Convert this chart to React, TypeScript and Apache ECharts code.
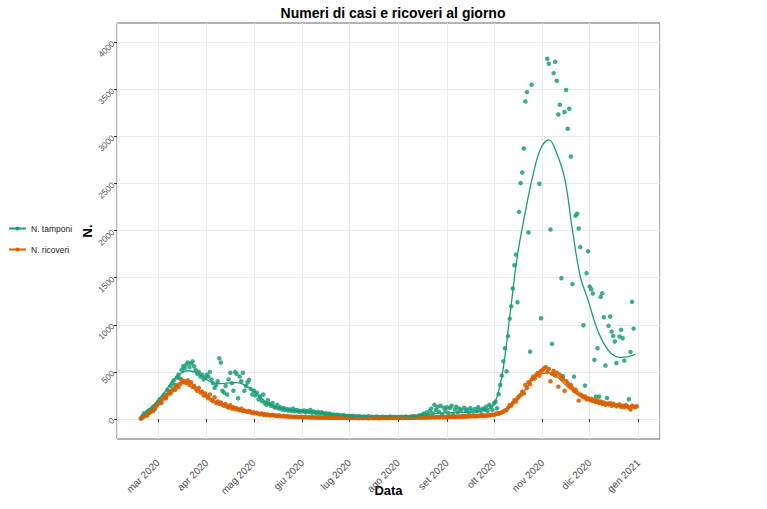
import React, { useEffect, useRef } from "react";
import * as echarts from "echarts";

// Daily counts, first observation on 19 Feb 2020
const tamponiFeb = [5, 30, 60, 45, 75, 90, 70, 110, 130, 105, 150];
const tamponiMar = [180, 210, 170, 240, 260, 230, 310, 290, 350, 380, 410, 360, 440, 470, 430, 520, 560, 540, 580, 600, 550, 590, 610, 560, 520, 480, 500, 450, 470, 420, 440];
const tamponiApr = [470, 450, 500, 420, 380, 330, 360, 400, 645, 600, 300, 280, 350, 260, 420, 490, 380, 300, 500, 480, 220, 450, 400, 490, 300, 350, 390, 415, 320, 260];
const tamponiMay = [300, 250, 280, 210, 240, 190, 260, 170, 150, 200, 160, 140, 170, 130, 120, 150, 110, 125, 100, 115, 95, 105, 90, 100, 85, 110, 80, 95, 90, 75, 85];
const tamponiJun = [80, 90, 70, 85, 75, 95, 65, 80, 70, 60, 75, 55, 70, 65, 50, 60, 45, 55, 50, 40, 48, 35, 45, 40, 38, 30, 42, 35, 28, 33];
const tamponiJul = [30, 25, 35, 22, 28, 20, 30, 25, 18, 26, 22, 20, 28, 15, 24, 20, 18, 25, 22, 16, 20, 24, 18, 22, 15, 20, 25, 18, 22, 20, 17];
const tamponiAug = [20, 18, 24, 15, 22, 25, 20, 18, 27, 22, 30, 25, 20, 35, 40, 30, 55, 45, 70, 40, 85, 110, 60, 150, 95, 130, 75, 140, 50, 120, 90];
const tamponiSep = [125, 60, 115, 140, 45, 100, 130, 70, 110, 95, 35, 120, 85, 100, 60, 115, 90, 40, 105, 80, 125, 95, 50, 110, 100, 130, 85, 150, 131, 96];
const tamponiOct = [167, 184, 114, 262, 361, 460, 613, 751, 507, 880, 1066, 1198, 1385, 1633, 1746, 1240, 2200, 2505, 2618, 2873, 3373, 3472, 1980, 715, 3550, null, null, null, null, 2498, 1070];
const tamponiNov = [null, null, null, 3827, 3773, 2012, 797, 3674, 3795, 3593, 3234, 3337, 1495, 454, 3260, 3494, 3082, 3295, 2788, 1432, 450, 2158, 2179, 2023, 1825, null, 996, 354, 1549, 1782];
const tamponiDec = [1406, 1378, 1332, 627, 237, 751, 237, 1297, 1336, 1081, 567, 223, 989, 1088, 928, 882, 822, 595, null, 875, 946, 858, 620, null, null, 209, 712, 1244, 960, null, null];

const ricoveriFeb = [5, 10, 25, 40, 35, 60, 75, 90, 85, 120, 140];
const ricoveriMar = [160, 185, 175, 210, 230, 220, 260, 280, 270, 300, 320, 310, 350, 340, 370, 415, 390, 400, 380, 410, 360, 390, 340, 350, 320, 300, 330, 280, 290, 250, 270];
const ricoveriApr = [240, 220, 260, 200, 190, 230, 170, 185, 160, 175, 150, 140, 160, 130, 120, 145, 110, 125, 105, 115, 100, 95, 110, 85, 90, 80, 75, 85, 70, 65];
const ricoveriMay = [70, 60, 65, 55, 50, 58, 45, 50, 42, 48, 40, 38, 44, 35, 36, 32, 38, 30, 28, 33, 26, 30, 24, 27, 22, 25, 20, 24, 21, 19, 22];
const ricoveriJun = [20, 18, 21, 17, 19, 16, 18, 15, 17, 14, 16, 13, 15, 14, 12, 15, 13, 12, 14, 11, 13, 12, 10, 13, 11, 12, 10, 11, 12, 10];
const ricoveriJul = [11, 10, 12, 9, 11, 10, 8, 12, 10, 9, 11, 10, 8, 10, 12, 9, 10, 11, 8, 10, 9, 12, 10, 11, 9, 10, 12, 11, 10, 9, 11];
const ricoveriAug = [10, 12, 11, 9, 13, 12, 10, 14, 12, 13, 15, 12, 14, 16, 13, 15, 17, 14, 16, 18, 15, 17, 19, 16, 18, 20, 17, 19, 21, 18, 20];
const ricoveriSep = [22, 19, 23, 21, 24, 20, 25, 22, 26, 23, 27, 24, 28, 25, 29, 27, 30, 28, 32, 29, 33, 31, 35, 32, 37, 34, 40, 36, 42, 45];
const ricoveriOct = [45, 50, 60, 55, 65, 70, 78, 90, 96, 120, 149, 140, 170, 200, 185, 220, 240, 255, 290, 270, 361, 330, 390, 370, 420, 450, 430, 470, 490, 460, 510];
const ricoveriNov = [520, 540, 549, 500, 530, 400, 480, 510, 460, 490, 343, 470, 440, 420, 298, 400, 380, 350, 360, 330, 300, 310, 280, 195, 260, 250, 230, 240, 210, 220];
const ricoveriDec = [200, 215, 190, 205, 180, 195, 170, 185, 160, 175, 150, 165, 155, 170, 140, 160, 150, 135, 145, 155, 130, 140, 125, 145, 135, 120, 100, 140, 130, 125, 135];

// Smoothed trend, one value every 5 days from 19 Feb 2020
const SMOOTH_STEP = 5;
const smoothTamponi = [20, 100, 180, 280, 400, 480, 512, 495, 440, 390, 375, 380, 385, 370, 320, 250, 180, 130, 105, 90, 80, 75, 70, 62, 50, 40, 33, 28, 25, 22, 20, 20, 20, 20, 22, 28, 40, 52, 60, 65, 68, 70, 72, 78, 95, 150, 450, 1080, 1740, 2200, 2600, 2880, 2965, 2820, 2560, 2009, 1513, 1260, 990, 800, 690, 655, 660, 685];
const smoothRicoveri = [15, 55, 140, 240, 320, 385, 395, 340, 270, 210, 165, 135, 112, 90, 70, 55, 45, 37, 30, 25, 21, 18, 16, 14, 13, 12, 11, 11, 10, 10, 10, 10, 10, 11, 12, 13, 15, 17, 19, 21, 23, 25, 28, 31, 36, 45, 65, 130, 215, 310, 430, 480, 490, 450, 370, 300, 237, 200, 175, 158, 145, 137, 132, 130];

// Month labels in Italian; count axis ticks every 500
const monthNames = ["gen", "feb", "mar", "apr", "mag", "giu", "lug", "ago", "set", "ott", "nov", "dic"];
const countTicks = [0, 500, 1000, 1500, 2000, 2500, 3000, 3500, 4000];

const GREEN = "#1B9E77";
const ORANGE = "#D95F02";
const FONT = "'Liberation Sans', Arial, Helvetica, sans-serif";

const tamponi = [
  ...tamponiFeb, ...tamponiMar, ...tamponiApr, ...tamponiMay, ...tamponiJun, ...tamponiJul,
  ...tamponiAug, ...tamponiSep, ...tamponiOct, ...tamponiNov, ...tamponiDec,
];
const ricoveri = [
  ...ricoveriFeb, ...ricoveriMar, ...ricoveriApr, ...ricoveriMay, ...ricoveriJun, ...ricoveriJul,
  ...ricoveriAug, ...ricoveriSep, ...ricoveriOct, ...ricoveriNov, ...ricoveriDec,
];

const dayTime = (i: number) => new Date(2020, 1, 19 + i).getTime();

const toPoints = (vals: (number | null)[]) =>
  vals
    .map((v, i) => (v == null ? null : [dayTime(i), v]))
    .filter((p) => p !== null) as number[][];

const toSmooth = (vals: number[]) => vals.map((v, k) => [dayTime(k * SMOOTH_STEP), v]);

export default function App() {
  const ref = useRef<HTMLDivElement>(null);

  useEffect(() => {
    document.body.style.margin = "0";
    if (!ref.current) return;
    const chart = echarts.init(ref.current, null, { renderer: "svg" });

    chart.setOption({
      animation: false,
      backgroundColor: "#ffffff",
      textStyle: { fontFamily: FONT },
      title: {
        text: "Numeri di casi e ricoveri al giorno",
        left: 388,
        textAlign: "center",
        top: 1,
        textStyle: { fontSize: 14, fontWeight: "bold", color: "#000", fontFamily: FONT },
      },
      legend: {
        orient: "vertical",
        left: 8,
        top: 224,
        padding: 0,
        itemWidth: 17,
        itemHeight: 5,
        itemGap: 12,
        data: ["N. tamponi", "N. ricoveri"],
        textStyle: { fontSize: 8.5, color: "#222", fontFamily: FONT },
      },
      grid: {
        left: 117,
        right: 107,
        top: 23,
        bottom: 70,
        show: true,
        borderColor: "#666",
        borderWidth: 1,
        backgroundColor: "transparent",
        outerBoundsMode: "none",
        containLabel: false,
      },
      xAxis: {
        type: "time",
        min: new Date(2020, 1, 3, 20).getTime(),
        max: new Date(2021, 0, 14, 19).getTime(),
        minInterval: 28 * 86400000,
        maxInterval: 31 * 86400000,
        name: "Data",
        nameLocation: "middle",
        nameGap: 45,
        nameMoveOverlap: false,
        nameTextStyle: { fontSize: 13, fontWeight: "bold", color: "#000", fontFamily: FONT },
        axisLine: { show: false },
        axisTick: { show: true, length: 3, lineStyle: { color: "#333" } },
        splitLine: { show: true, lineStyle: { color: "#ebebeb", width: 1 } },
        axisLabel: {
          rotate: 45,
          margin: 22,
          fontSize: 10,
          color: "#4d4d4d",
          fontFamily: FONT,
          formatter: (value: number) => {
            const d = new Date(value);
            if (d.getDate() !== 1 || d.getHours() !== 0) return "";
            return monthNames[d.getMonth()] + " " + d.getFullYear();
          },
        },
      },
      yAxis: {
        type: "value",
        min: -213,
        max: 4206,
        splitNumber: 9,
        name: "N.",
        nameLocation: "middle",
        nameGap: 23,
        nameMoveOverlap: false,
        nameTextStyle: { fontSize: 13, fontWeight: "bold", color: "#000", fontFamily: FONT },
        axisLine: { show: false },
        axisTick: { show: true, length: 3, lineStyle: { color: "#333" }, customValues: countTicks },
        splitLine: { show: true, lineStyle: { color: "#ebebeb", width: 1 } },
        axisLabel: {
          customValues: countTicks,
          rotate: 45,
          margin: 4,
          fontSize: 8.5,
          color: "#555",
          fontFamily: FONT,
          formatter: (v: number) => String(v),
        },
      },
      series: [
        {
          name: "N. tamponi",
          type: "line",
          data: toSmooth(smoothTamponi),
          smooth: 0.4,
          symbol: "circle",
          symbolSize: 4,
          showSymbol: false,
          lineStyle: { color: GREEN, width: 1.3 },
          itemStyle: { color: GREEN },
          z: 4,
          silent: true,
        },
        {
          name: "N. ricoveri",
          type: "line",
          data: toSmooth(smoothRicoveri),
          smooth: 0.4,
          symbol: "circle",
          symbolSize: 4,
          showSymbol: false,
          lineStyle: { color: ORANGE, width: 1.3 },
          itemStyle: { color: ORANGE },
          z: 4,
          silent: true,
        },
        {
          name: "N. tamponi",
          type: "scatter",
          data: toPoints(tamponi),
          symbolSize: 4.5,
          itemStyle: { color: GREEN, opacity: 0.85 },
          z: 2,
          silent: true,
        },
        {
          name: "N. ricoveri",
          type: "scatter",
          data: toPoints(ricoveri),
          symbolSize: 4.5,
          itemStyle: { color: ORANGE, opacity: 0.9 },
          z: 2,
          silent: true,
        },
      ],
    });

    return () => chart.dispose();
  }, []);

  return <div ref={ref} style={{ width: 767, height: 509 }} />;
}
